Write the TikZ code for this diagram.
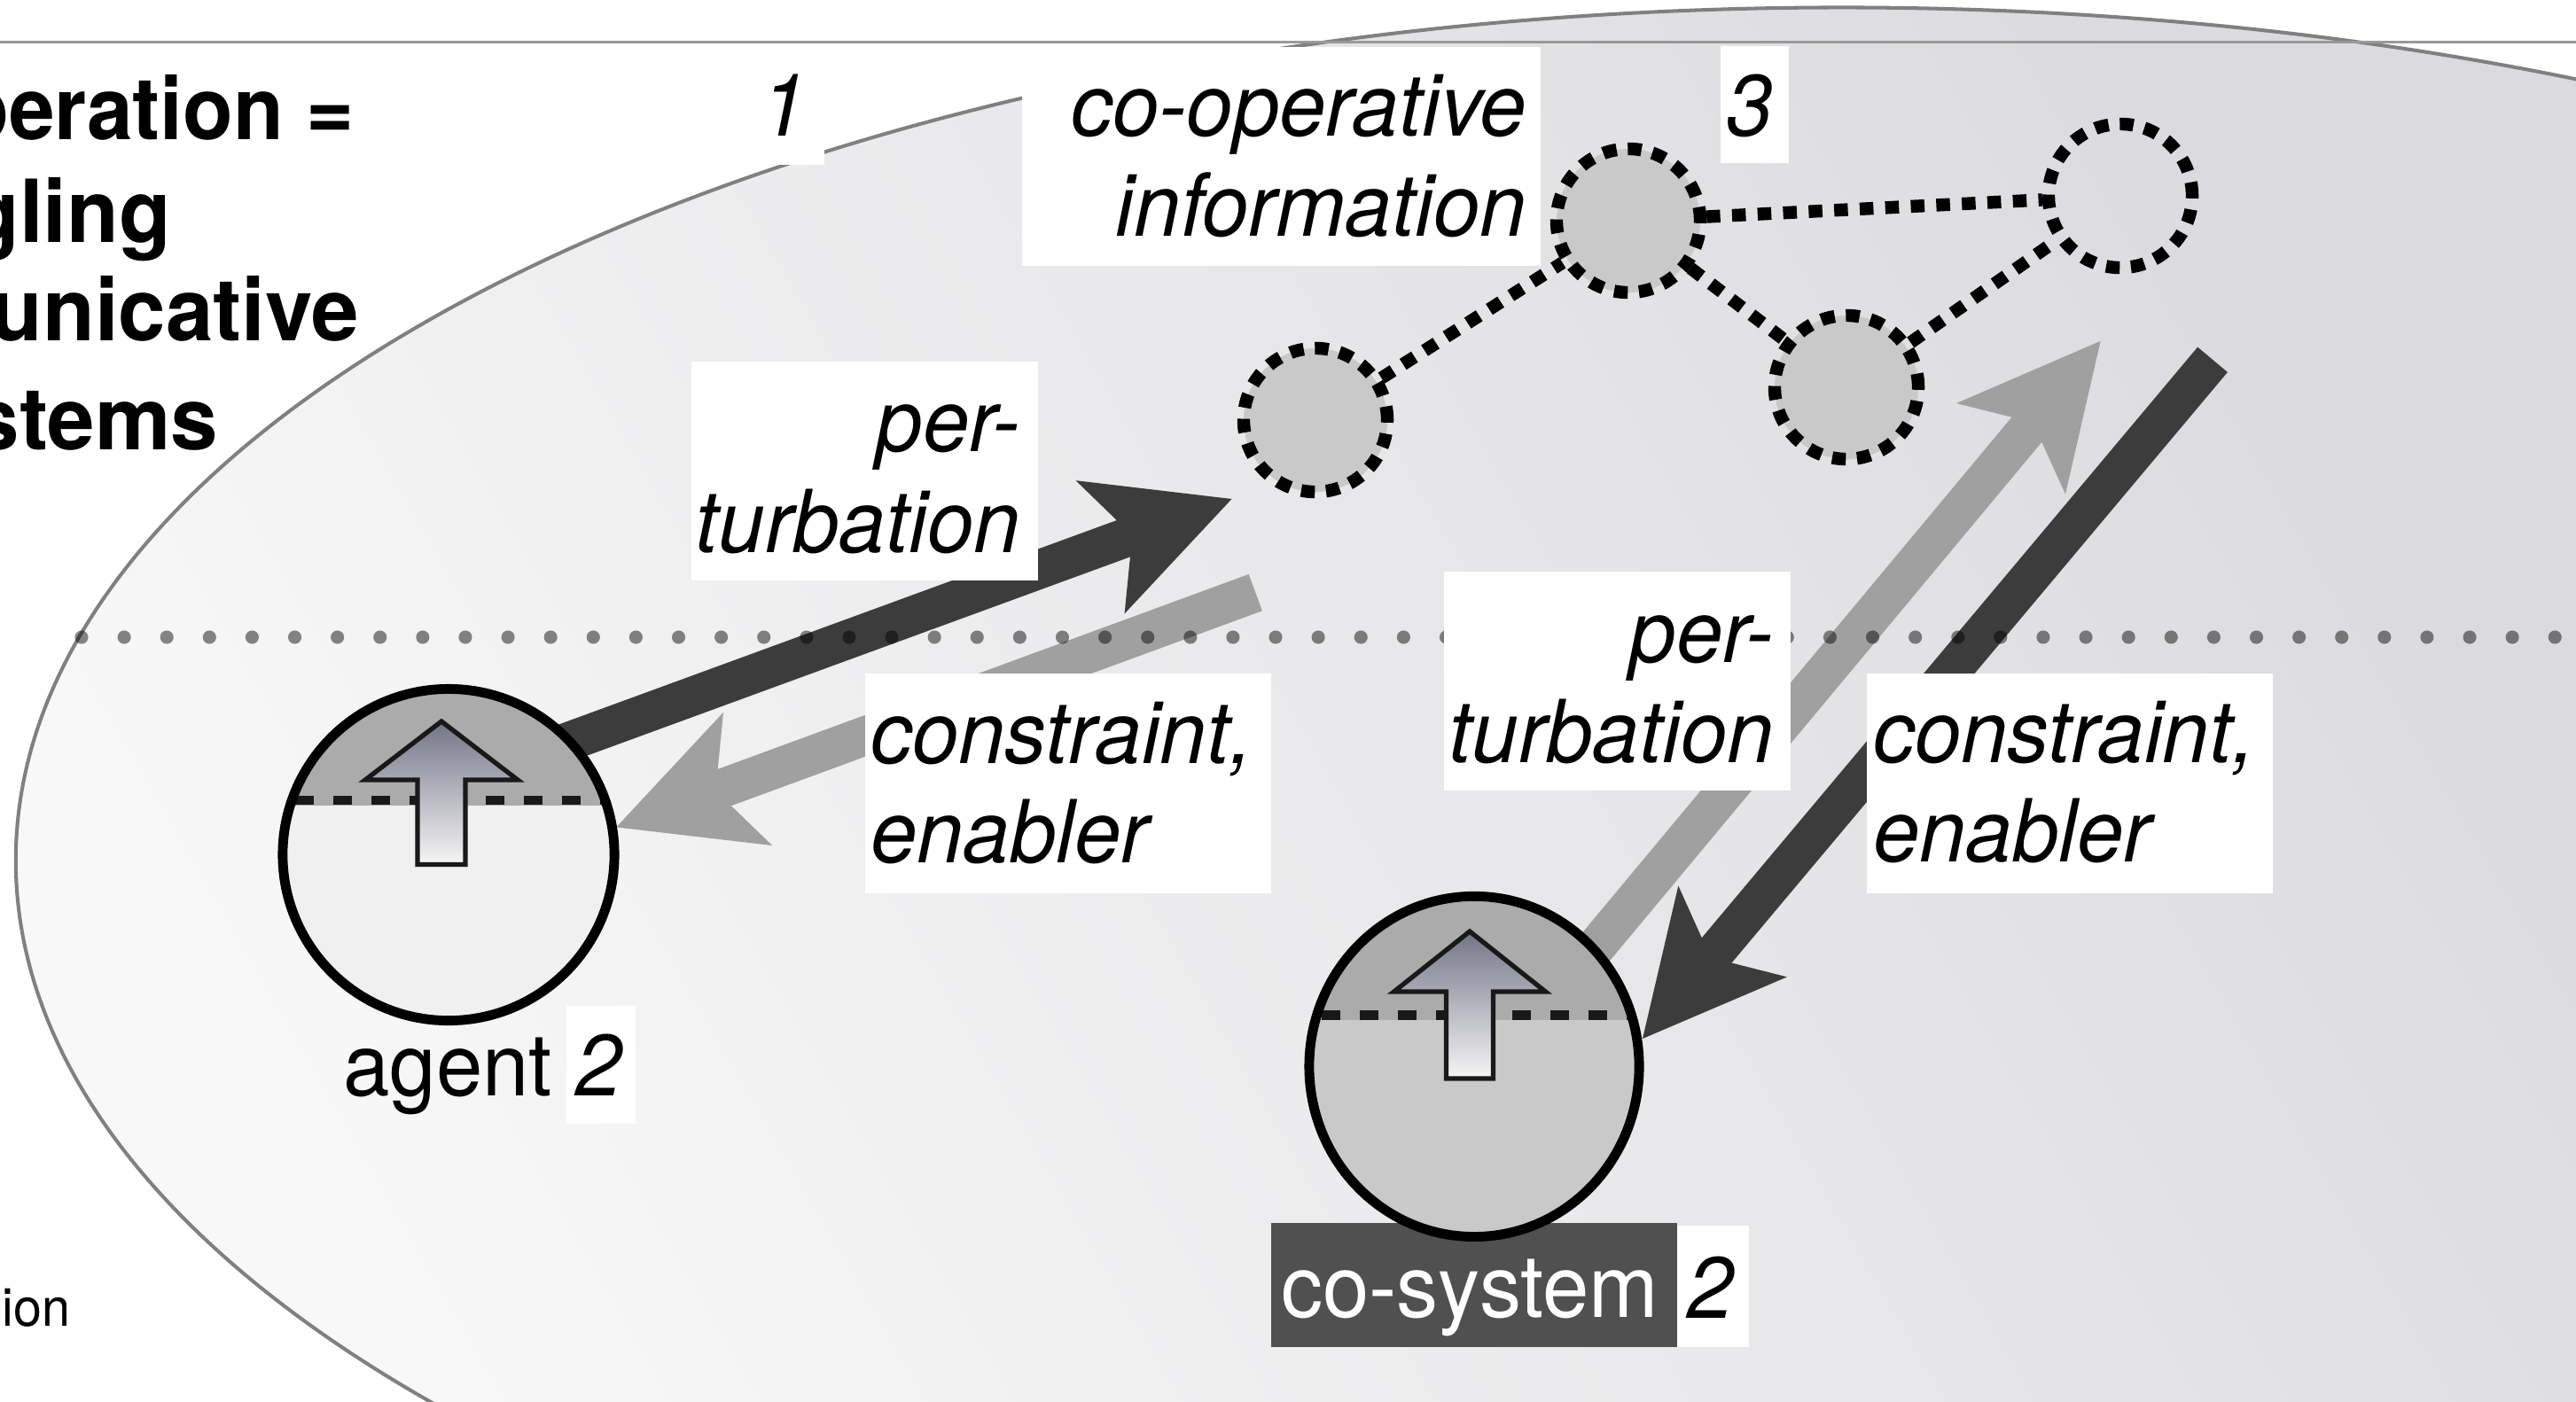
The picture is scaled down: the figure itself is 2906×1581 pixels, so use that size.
\documentclass[tikz,border=0pt]{standalone}
\usepackage{graphicx}
\usepackage{fontspec}
\setmainfont{TeX Gyre Heros}[FakeStretch=0.96, BoldFeatures={FakeStretch=0.98}]
\usetikzlibrary{calc}
\definecolor{darkarrow}{HTML}{3C3C3C}
\definecolor{lightarrow}{HTML}{A0A0A0}
\definecolor{capgray}{HTML}{ABABAB}
\definecolor{nodegray}{HTML}{C9C9C9}
\definecolor{agentlow}{HTML}{F0F0F0}
\definecolor{cosyslow}{HTML}{C9C9C9}
\definecolor{cosysbox}{HTML}{505050}
\definecolor{ellline}{HTML}{808080}
\definecolor{ellight}{HTML}{F8F8F8}
\definecolor{eldark}{HTML}{DBDBDF}
\definecolor{uparrowtop}{HTML}{747488}
\definecolor{uptail}{HTML}{F6F6F6}
\definecolor{topline}{HTML}{999999}
\newcommand{\lblfont}{\fontsize{27.9pt}{32pt}\selectfont}
\newcommand{\smallfnt}{\fontsize{17pt}{20pt}\selectfont}
\newcommand{\fatarrow}[3]{%
  \coordinate (fan) at ($(#3)!1.30cm!(#2)$);
  \coordinate (fab) at ($(#3)!1.58cm!(#2)$);
  \fill[#1] ($(#2)!0.22cm!90:(#3)$) -- ($(fan)!0.22cm!-90:(#2)$) -- ($(fab)!0.80cm!-90:(#2)$) -- (#3) -- ($(fab)!0.80cm!90:(#2)$) -- ($(fan)!0.22cm!90:(#2)$) -- ($(#2)!0.22cm!-90:(#3)$) -- cycle;}
\begin{document}
\begin{tikzpicture}[x=0.01cm,y=-0.01cm,
  lbl/.style={inner sep=0pt, outer sep=0pt, font=\lblfont},
  ilbl/.style={inner sep=0pt, outer sep=0pt, font=\lblfont\itshape},
  blbl/.style={inner sep=0pt, outer sep=0pt, font=\lblfont\bfseries},
  wbox/.style={fill=white, draw=none, inner sep=0pt, outer sep=0pt, anchor=north west},
  infonode/.style={circle, minimum size=1.62cm, inner sep=0pt, draw=black, line width=4.1pt, dash pattern=on 4.4pt off 3.6pt, fill=nodegray},
  infolink/.style={draw=black, line width=4.1pt, dash pattern=on 4.4pt off 3.8pt},
  agentring/.style={draw=black, line width=3.1pt},
  splitline/.style={draw=black!90, line width=3pt, dash pattern=on 5.97pt off 6.26pt},
  dotline/.style={draw=black, draw opacity=0.47, line width=4.3pt, line cap=round, dash pattern=on 0pt off 13.68pt},
  growarrow/.style={draw=black!90, line width=1.5pt, top color=uparrowtop, bottom color=uptail, line join=miter},
]
\useasboundingbox (0,0) rectangle (2906,1581);
\clip (0,0) rectangle (2906,1581);
\fill[white] (0,0) rectangle (2906,1581);

% big ellipse
\coordinate (ellc) at (2078,971);
\begin{scope}
  \clip (ellc) ellipse [x radius=20.59cm, y radius=9.62cm];
  \shade[bottom color=ellight, top color=eldark, shading angle=-60] (0,0) rectangle (2906,1581);
\end{scope}
\draw[ellline, line width=1.15pt] (ellc) ellipse [x radius=20.59cm, y radius=9.62cm];

% top rule
\coordinate (tl0) at (0,47);
\coordinate (tl1) at (2906,47);
\draw[topline, line width=0.85pt] (tl0) -- (tl1);

% title (cut at the left edge)
\node[blbl, anchor=base east] (ti1) at (400,157) {\scalebox{0.965}[1]{peration =}};
\node[blbl, anchor=base east] (ti2) at (193,273) {gling};
\node[blbl, anchor=base east] (ti3) at (405,384) {unicative};
\node[blbl, anchor=base east] (ti4) at (246,507) {stems};
\node[inner sep=0pt, font=\smallfnt, anchor=base east] (ion) at (80,1496) {ion};

% fat arrows
\coordinate (a1tail) at (600,852);
\coordinate (a1tip) at (1389.5,563);
\coordinate (a2tail) at (1416.3,668.6);
\coordinate (a2tip) at (695.2,933.4);
\coordinate (a3tail) at (1730,1153);
\coordinate (a3tip) at (2369.6,384.8);
\coordinate (a4tail) at (2496,405.8);
\coordinate (a4tip) at (1853,1172);
\fatarrow{darkarrow}{a1tail}{a1tip}
\fatarrow{lightarrow}{a2tail}{a2tip}
\fatarrow{lightarrow}{a3tail}{a3tip}
\fatarrow{darkarrow}{a4tail}{a4tip}

% dotted boundary line
\coordinate (dl0) at (92,719);
\coordinate (dl1) at (2930,719);
\draw[dotline] (dl0) -- (dl1);

% co-operative information network
\node[infonode] (nA) at (1484,474) {};
\node[infonode] (nB) at (1837,249) {};
\node[infonode] (nC) at (2083,437) {};
\node[infonode, fill=none] (nD) at (2392,221) {};
\draw[infolink] (nA) -- (nB);
\draw[infolink] (nB) -- (nD);
\draw[infolink] (nB) -- (nC);
\draw[infolink] (nC) -- (nD);

% agent
\coordinate (agentc) at (506,964.5);
\begin{scope}
  \clip (agentc) circle [radius=1.87cm];
  \fill[agentlow] (300,740) rectangle (720,1190);
  \fill[capgray] (300,740) rectangle (720,908.5);
  \draw[splitline] (290,903) -- (720,903);
\end{scope}
\path[growarrow] (498,814) -- (584,880) -- (525,880) -- (525,975.5) -- (471,975.5) -- (471,880) -- (412,880) -- cycle;
\draw[agentring] (agentc) circle [radius=1.87cm];
\node[lbl, anchor=base east] (agentlbl) at (623,1236) {agent};
\node[wbox, minimum width=0.78cm, minimum height=1.33cm] (agent2box) at (639,1135) {};
\node[ilbl, anchor=base] (agent2) at (676,1236) {2};

% co-system
\node[wbox, fill=cosysbox, minimum width=4.58cm, minimum height=1.40cm] (cosysbox) at (1434,1380) {};
\coordinate (cosysc) at (1663,1203.4);
\begin{scope}
  \clip (cosysc) ellipse [x radius=1.86cm, y radius=1.92cm];
  \fill[cosyslow] (1450,1000) rectangle (1880,1410);
  \fill[capgray] (1450,1000) rectangle (1880,1151);
  \draw[splitline] (1447.7,1145.5) -- (1880,1145.5);
\end{scope}
\path[growarrow] (1658,1051) -- (1743.5,1119) -- (1684.5,1119) -- (1684.5,1217) -- (1631.5,1217) -- (1631.5,1119) -- (1572.5,1119) -- cycle;
\draw[agentring] (cosysc) ellipse [x radius=1.86cm, y radius=1.92cm];
\node[lbl, text=white, anchor=base west] (cosyslbl) at (1445,1486) {co-system};
\node[wbox, minimum width=0.81cm, minimum height=1.375cm] (cosys2box) at (1892,1382.5) {};
\node[ilbl, anchor=base] (cosys2) at (1930,1487) {2};

% label boxes
\node[wbox, minimum width=3.91cm, minimum height=2.47cm] (box1) at (780,408) {};
\node[ilbl, anchor=base east] (p1a) at (1151,509.5) {per-};
\node[ilbl, anchor=base east] (p1b) at (1151,623.3) {turbation};

\node[wbox, minimum width=3.91cm, minimum height=2.47cm] (box2) at (1629,645) {};
\node[ilbl, anchor=base east] (p2a) at (2001,747) {per-};
\node[ilbl, anchor=base east] (p2b) at (2001,860) {turbation};

\node[wbox, minimum width=4.58cm, minimum height=2.485cm] (box3) at (976,759.5) {};
\node[ilbl, anchor=base west] (c1a) at (982,861.3) {constraint,};
\node[ilbl, anchor=base west] (c1b) at (982,973.8) {enabler};

\node[wbox, minimum width=4.58cm, minimum height=2.48cm] (box4) at (2106,760) {};
\node[ilbl, anchor=base west] (c2a) at (2113,860.3) {constraint,};
\node[ilbl, anchor=base west] (c2b) at (2113,972.8) {enabler};

\node[wbox, minimum width=5.85cm, minimum height=2.47cm] (box5) at (1153,53) {};
\node[ilbl, anchor=base east] (coa) at (1722,153.4) {co-operative};
\node[ilbl, anchor=base east] (cob) at (1722,266.5) {information};

\node[wbox, minimum width=0.77cm, minimum height=1.34cm] (box6) at (853,52) {};
\node[ilbl, anchor=base] (one) at (885,153) {1};

\node[wbox, minimum width=0.77cm, minimum height=1.32cm] (box7) at (1941,52) {};
\node[ilbl, anchor=base] (three) at (1974,153.4) {3};
\end{tikzpicture}
\end{document}
